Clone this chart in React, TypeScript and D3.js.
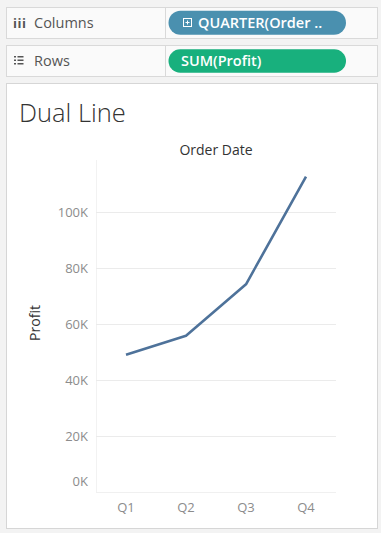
import React from "react";
import * as d3 from "d3";

const quarters = ["Q1", "Q2", "Q3", "Q4"];
const profit = [49100, 55900, 74300, 112700];
const yTicks = [0, 20000, 40000, 60000, 80000, 100000];

const W = 381;
const H = 533;
const FONT = "'Open Sans', 'Noto Sans', sans-serif";

export default function App() {
  const x = d3.scaleBand<string>().domain(quarters).range([96, 336]);
  const y = d3.scaleLinear().domain([0, 100000]).range([492.3, 212.3]);
  const line = d3
    .line<number>()
    .x((_, i) => (x(quarters[i]) as number) + x.bandwidth() / 2)
    .y((d) => y(d));
  const fmt = (v: number) => `${v / 1000}K`;

  return (
    <svg
      width={W}
      height={H}
      style={{ position: "absolute", left: 0, top: 0, display: "block" }}
      fontFamily={FONT}
    >
      <rect x={0} y={0} width={W} height={H} fill="#f3f3f3" />
      {/* Columns shelf */}
      <rect x={6.5} y={7.5} width={371} height={31} fill="#fafafa" stroke="#d9d9d9" />
      <line x1={165.5} x2={165.5} y1={7.5} y2={38.5} stroke="#d9d9d9" />
      <text x={13} y={28} fontSize={13} fill="#555" fontWeight={700} letterSpacing={0.5}>iii</text>
      <text x={34} y={28} fontSize={14.5} fill="#555">Columns</text>
      <rect x={168.5} y={10.7} width={177.5} height={24} rx={12} fill="#4a90af" />
      <rect x={183.5} y={18.5} width={8} height={8} fill="none" stroke="#fff" strokeWidth={1} />
      <line x1={185.5} x2={189.5} y1={22.5} y2={22.5} stroke="#fff" strokeWidth={1} />
      <line x1={187.5} x2={187.5} y1={20.5} y2={24.5} stroke="#fff" strokeWidth={1} />
      <text x={198} y={28} fontSize={14.5} fill="#fff" fontWeight={600}>QUARTER(Order ..</text>

      {/* Rows shelf */}
      <rect x={6.5} y={45.5} width={371} height={31} fill="#fafafa" stroke="#d9d9d9" />
      <line x1={165.5} x2={165.5} y1={45.5} y2={76.5} stroke="#d9d9d9" />
      {[0, 1, 2].map((i) => (
        <g key={i}>
          <rect x={14} y={56 + i * 3.5} width={2} height={1.5} fill="#555" />
          <rect x={17.5} y={56 + i * 3.5} width={6} height={1.5} fill="#555" />
        </g>
      ))}
      <text x={34} y={66} fontSize={14.5} fill="#555">Rows</text>
      <rect x={168.5} y={49.3} width={177.5} height={23.5} rx={11.75} fill="#18b07d" />
      <text x={181} y={66} fontSize={14.5} fill="#fff" fontWeight={600}>SUM(Profit)</text>

      {/* Chart panel */}
      <rect x={6.5} y={83.5} width={371} height={445} fill="#fff" stroke="#d6d6d6" />
      <text x={19} y={122} fontSize={25.5} fontWeight={300} fill="#333">Dual Line</text>
      <text x={216} y={155} fontSize={14} fill="#333" textAnchor="middle">Order Date</text>

      {/* pane left border */}
      <line x1={96.5} x2={96.5} y1={160} y2={492.3} stroke="#f2f2f2" />
      {yTicks.map((t) => (
        <g key={t}>
          <line x1={96} x2={336} y1={Math.round(y(t)) + 0.5} y2={Math.round(y(t)) + 0.5} stroke={t === 0 ? "#f0f0f0" : "#ebebeb"} />
          <text x={88} y={y(t) + 4.5 - (t === 0 ? 10.5 : 0)} fontSize={13} fill="#8c8c8c" textAnchor="end">{fmt(t)}</text>
        </g>
      ))}
      <text
        transform={`translate(40,323) rotate(-90)`}
        fontSize={14}
        fill="#333"
        textAnchor="middle"
      >
        Profit
      </text>
      {quarters.map((q) => (
        <text key={q} x={(x(q) as number) + x.bandwidth() / 2} y={512} fontSize={13} fill="#8c8c8c" textAnchor="middle">
          {q}
        </text>
      ))}
      <path d={line(profit) || ""} fill="none" stroke="#4e729a" strokeWidth={2.6} strokeLinejoin="round" />
    </svg>
  );
}
